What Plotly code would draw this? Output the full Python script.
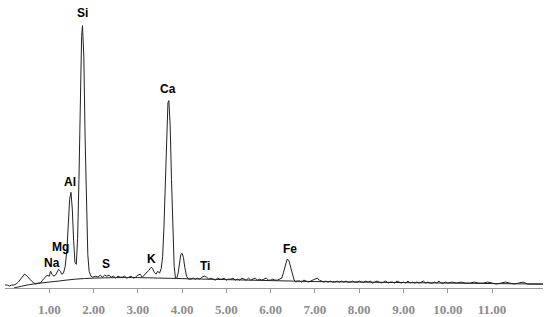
import plotly.graph_objects as go

# EDS spectrum, energy in keV, counts in arbitrary units
energy = [
    0.00, 0.05, 0.10, 0.15, 0.20, 0.25, 0.30, 0.35, 0.40, 0.44,
    0.48, 0.52, 0.56, 0.60, 0.65, 0.70, 0.75, 0.80, 0.85, 0.90,
    0.95, 1.00, 1.03, 1.06, 1.10, 1.14, 1.18, 1.21, 1.25, 1.28,
    1.32, 1.36, 1.40, 1.43, 1.46, 1.49, 1.52, 1.55, 1.58, 1.61,
    1.64, 1.67, 1.70, 1.73, 1.75, 1.78, 1.81, 1.84, 1.87, 1.90,
    1.94, 1.98, 2.05, 2.10, 2.15, 2.20, 2.25, 2.30, 2.35, 2.40,
    2.45, 2.50, 2.55, 2.60, 2.65, 2.70, 2.75, 2.80, 2.85, 2.90,
    2.95, 3.00, 3.05, 3.10, 3.15, 3.20, 3.25, 3.30, 3.33, 3.37,
    3.41, 3.45, 3.49, 3.53, 3.56, 3.59, 3.62, 3.65, 3.68, 3.70,
    3.73, 3.76, 3.79, 3.82, 3.85, 3.88, 3.91, 3.94, 3.97, 4.00,
    4.03, 4.06, 4.10, 4.14, 4.20, 4.25, 4.30, 4.35, 4.40, 4.45,
    4.50, 4.55, 4.60, 4.65, 4.70, 4.75, 4.80, 4.85, 4.90, 4.95,
    5.00, 5.05, 5.10, 5.15, 5.20, 5.25, 5.30, 5.35, 5.40, 5.45,
    5.50, 5.55, 5.60, 5.65, 5.70, 5.75, 5.80, 5.85, 5.90, 5.95,
    6.00, 6.05, 6.10, 6.15, 6.20, 6.25, 6.29, 6.33, 6.37, 6.41,
    6.45, 6.49, 6.53, 6.57, 6.60, 6.65, 6.70, 6.75, 6.80, 6.85,
    6.90, 6.95, 7.00, 7.05, 7.10, 7.15, 7.20, 7.25, 7.30, 7.35,
    7.40, 7.45, 7.50, 7.55, 7.60, 7.65, 7.70, 7.75, 7.80, 7.85,
    7.90, 7.95, 8.00, 8.05, 8.10, 8.15, 8.20, 8.25, 8.30, 8.35,
    8.40, 8.45, 8.50, 8.55, 8.60, 8.65, 8.70, 8.75, 8.80, 8.85,
    8.90, 8.95, 9.00, 9.05, 9.10, 9.15, 9.20, 9.25, 9.30, 9.35,
    9.40, 9.45, 9.50, 9.55, 9.60, 9.65, 9.70, 9.75, 9.80, 9.85,
    9.90, 9.95, 10.00, 10.10, 10.20, 10.30, 10.40, 10.50, 10.60, 10.70,
    10.80, 10.90, 11.00, 11.10, 11.20, 11.30, 11.40, 11.50, 11.60, 11.70,
    11.80, 11.90, 12.00, 12.15,
]
counts = [
    3, 3, 2, 3, 3, 4, 6, 9, 12, 14,
    13, 11, 8, 7, 5, 4, 5, 5, 8, 10,
    13, 12, 17, 14, 12, 13, 16, 19, 17, 14,
    15, 22, 40, 70, 90, 97, 80, 48, 26, 24,
    50, 110, 195, 255, 266, 235, 150, 75, 34, 17,
    12, 11, 12, 11, 13, 11, 13, 12, 13, 11,
    12, 10, 12, 11, 11, 12, 10, 11, 12, 10,
    11, 13, 14, 11, 13, 16, 18, 21, 20, 16,
    14, 17, 15, 20, 32, 62, 110, 160, 188, 190,
    165, 110, 55, 22, 10, 10, 15, 25, 34, 35,
    31, 21, 12, 9, 9, 10, 9, 10, 9, 11,
    12, 11, 9, 10, 9, 8, 10, 9, 9, 10,
    8, 9, 9, 10, 8, 9, 8, 10, 9, 8,
    10, 8, 9, 10, 8, 9, 8, 9, 10, 8,
    8, 9, 8, 8, 9, 10, 16, 24, 29, 28,
    21, 12, 8, 6, 7, 7, 6, 8, 7, 6,
    7, 8, 9, 10, 8, 7, 6, 7, 6, 7,
    6, 6, 7, 6, 7, 6, 7, 6, 6, 7,
    6, 6, 7, 6, 6, 7, 6, 7, 5, 6,
    7, 6, 5, 6, 7, 5, 6, 6, 5, 7,
    6, 5, 6, 5, 7, 5, 6, 5, 6, 5,
    6, 7, 5, 6, 5, 5, 6, 5, 7, 5,
    5, 6, 5, 6, 5, 6, 5, 5, 6, 5,
    5, 6, 5, 4, 5, 6, 5, 4, 5, 6,
    4, 4, 4, 4,
]

# fitted background (bremsstrahlung) curve
bg_energy = [0.2, 0.5, 0.8, 1.2, 1.6, 2.0, 2.5, 3.0, 4.0, 5.0, 6.0, 7.0, 8.0, 9.0, 10.0, 11.0, 12.15]
bg_counts = [0, 3, 5, 7, 9, 10, 10.5, 10.5, 9.5, 8.5, 7.5, 6.5, 6, 5.5, 5, 4.5, 4]

# element labels: name, energy of label, height of label
elements = ['Na', 'Mg', 'Al', 'Si', 'S', 'K', 'Ca', 'Ti', 'Fe']
label_e = [1.07, 1.25, 1.47, 1.75, 2.29, 3.30, 3.69, 4.52, 6.44]
label_c = [25, 42, 107, 279, 24, 29, 202, 22, 40]

ticks = [1, 2, 3, 4, 5, 6, 7, 8, 9, 10, 11]

fig = go.Figure()
fig.add_trace(go.Scatter(x=bg_energy, y=bg_counts, mode='lines', line_shape='spline',
                         line=dict(color='#222222', width=1), hoverinfo='skip'))
fig.add_trace(go.Scatter(x=energy, y=counts, mode='lines',
                         line=dict(color='#222222', width=1)))

for name, e, c in zip(elements, label_e, label_c):
    fig.add_annotation(x=e, y=c, text=name, showarrow=False,
                       font=dict(family='Liberation Sans', size=12, color='black', weight='bold'))

fig.update_layout(
    width=550, height=317,
    margin=dict(l=5, r=7, t=0, b=25),
    paper_bgcolor='white', plot_bgcolor='white',
    showlegend=False,
)
fig.update_xaxes(range=[0, 12.15], tickvals=ticks, tickformat='.2f',
                 showline=True, linecolor='#999999', linewidth=1,
                 ticks='outside', ticklen=4, tickcolor='#999999',
                 showgrid=False, zeroline=False, ticklabelstandoff=5,
                 tickfont=dict(family='Liberation Serif', size=13, color='#8c8c8c', weight='bold'))
fig.update_yaxes(range=[0, 292], visible=False, showgrid=False)

# page body has an 8px default margin; drop it so the figure sits at the corner
fig.write_html("out.html", config={'displayModeBar': False},
               post_script="document.body.style.margin='0';")
